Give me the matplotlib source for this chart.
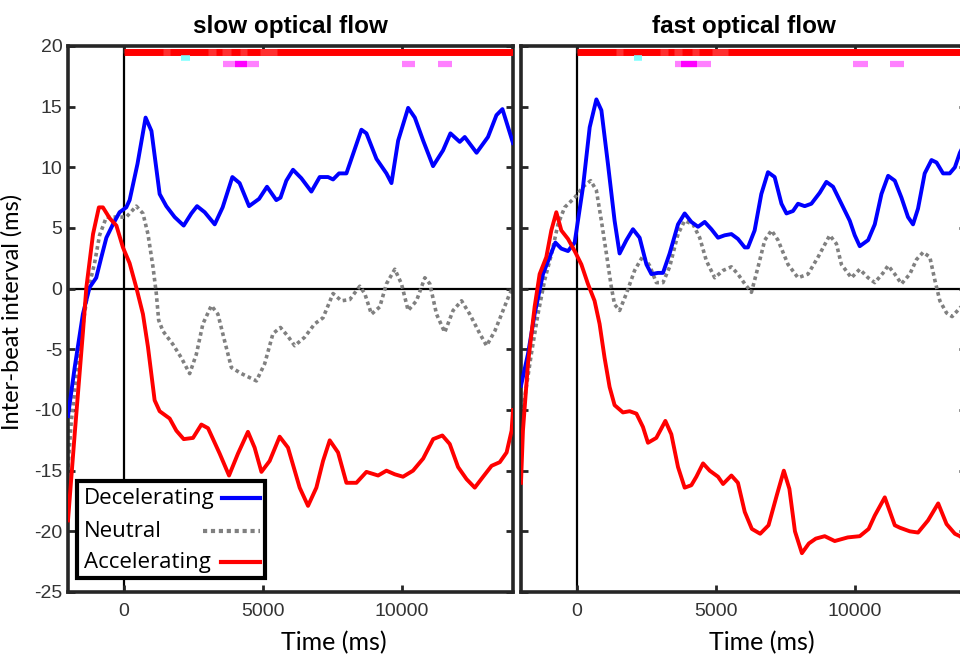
import matplotlib.pyplot as plt
from matplotlib.patches import Rectangle

plt.rcParams['axes.unicode_minus'] = False

# ---------------- data ----------------
# slow optical flow
slow_t_dec = [-2000, -1760, -1465, -1225, -985, -800, -620, -385, -145, 95, 216, 500, 790, 1000,
              1295, 1535, 1835, 2160, 2435, 2640, 2915, 3275, 3560, 3910, 4170, 4510, 4870, 5155,
              5490, 5640, 5850, 6090, 6390, 6750, 7050, 7350, 7530, 7745, 8010, 8550, 8730, 9090,
              9450, 9630, 9870, 10230, 10470, 10770, 11125, 11485, 11750, 12085, 12265, 12690,
              13100, 13405, 13620, 14000]
slow_dec = [-10.5, -6.5, -2.1, 0.1, 0.9, 2.6, 4.2, 5.3, 6.3, 6.7, 7.3, 10.3, 14.1, 13.0,
            7.8, 6.8, 5.9, 5.2, 6.2, 6.8, 6.3, 5.3, 6.7, 9.2, 8.7, 6.8, 7.4, 8.4,
            7.3, 7.5, 8.9, 9.8, 9.1, 8.0, 9.2, 9.2, 9.0, 9.5, 9.5, 13.1, 12.8, 10.7,
            9.5, 8.7, 12.2, 14.9, 14.1, 12.2, 10.1, 11.4, 12.8, 12.1, 12.5, 11.2,
            12.5, 14.3, 14.8, 12.0]

slow_t_neu = [-2000, -1880, -1580, -1285, -1045, -865, -620, -325, 95, 455, 695, 875, 1055, 1175,
              1260, 1415, 1775, 2075, 2375, 2615, 2850, 3155, 3390, 3630, 3875, 4235, 4775, 5070,
              5370, 5640, 5900, 6150, 6510, 6870, 7170, 7530, 7830, 8130, 8490, 8670, 8910, 9210,
              9450, 9750, 9990, 10230, 10530, 10830, 11010, 11250, 11545, 11845, 12150, 12445,
              12805, 13050, 13345, 13590, 13885, 14000]
slow_neu = [-14.7, -10.9, -4.8, -0.2, 2.1, 4.4, 5.9, 5.9, 5.9, 6.8, 6.2, 4.5, 1.8, -0.4,
            -2.6, -3.5, -4.6, -5.7, -7.0, -5.4, -2.9, -1.4, -2.1, -4.3, -6.5, -7.0, -7.6, -6.2,
            -3.7, -3.2, -3.9, -4.7, -4.0, -2.9, -2.4, -0.4, -1.0, -0.9, 0.2, -0.4, -2.1, -1.5,
            0.4, 1.6, 0.4, -1.8, -1.0, 0.9, 0.4, -2.1, -3.6, -1.8, -1.0, -2.1,
            -3.7, -4.7, -3.5, -2.1, -0.4, 0.1]

slow_t_acc = [-2000, -1760, -1460, -1340, -1100, -890, -745, -500, -260, -25, 215, 455, 695, 875,
              1115, 1295, 1655, 1895, 2160, 2495, 2795, 3035, 3455, 3790, 4110, 4470, 4710, 4955,
              5250, 5610, 5910, 6330, 6630, 6930, 7170, 7410, 7710, 8010, 8370, 8730, 9150, 9450,
              9750, 10045, 10405, 10770, 11130, 11460, 11725, 12025, 12330, 12625, 12925, 13230,
              13525, 13770, 13950, 14000]
slow_acc = [-19.1, -12.0, -3.5, 0.1, 4.5, 6.7, 6.7, 5.8, 5.2, 3.4, 2.1, 0.1, -2.1, -4.8,
            -9.2, -10.1, -10.7, -11.7, -12.4, -12.3, -11.2, -11.5, -13.6, -15.4, -13.6, -11.8, -13.1, -15.1,
            -14.2, -12.2, -13.1, -16.4, -17.9, -16.4, -14.2, -12.5, -13.5, -16.0, -16.0, -15.1, -15.4, -15.0,
            -15.3, -15.5, -15.0, -14.0, -12.4, -12.1, -12.8, -14.7, -15.7, -16.4, -15.5, -14.6,
            -14.3, -13.5, -11.7, -10.0]

# fast optical flow
fast_t_dec = [-2000, -1750, -1510, -1210, -970, -765, -550, -310, -70, 230, 470, 710, 890, 1125,
              1365, 1545, 1790, 2025, 2265, 2510, 2690, 2925, 3105, 3345, 3645, 3885, 4125, 4365,
              4605, 4845, 5085, 5325, 5565, 5800, 6045, 6160, 6400, 6640, 6880, 7120, 7365, 7545,
              7780, 7960, 8200, 8440, 8740, 8980, 9220, 9520, 9820, 10000, 10180, 10480, 10720,
              10960, 11200, 11440, 11680, 11915, 12095, 12275, 12515, 12760, 12940, 13175, 13415,
              13600, 13780, 14000]
fast_dec = [-8.0, -5.4, -2.1, 1.2, 2.6, 3.8, 3.3, 3.1, 3.8, 8.4, 13.3, 15.6, 14.7, 10.3,
            5.6, 2.9, 4.0, 4.9, 4.2, 2.0, 1.2, 1.3, 1.3, 2.9, 5.3, 6.2, 5.5, 5.1,
            5.5, 4.9, 4.2, 4.4, 4.5, 4.1, 3.4, 3.4, 4.8, 7.8, 9.6, 9.2, 7.0, 6.2,
            6.4, 7.0, 6.8, 7.0, 7.9, 8.8, 8.4, 7.0, 5.6, 4.4, 3.5, 4.0, 5.3,
            7.8, 9.3, 8.9, 7.5, 5.9, 5.3, 6.6, 9.5, 10.6, 10.4, 9.5, 9.5,
            10.0, 11.2, 12.2]

fast_t_neu = [-2000, -1630, -1390, -1150, -910, -670, -430, -70, 230, 505, 710, 890, 1070, 1250,
              1365, 1545, 1790, 2085, 2385, 2625, 2865, 3105, 3345, 3645, 3885, 4185, 4425, 4665,
              4965, 5265, 5565, 5800, 6045, 6285, 6525, 6765, 7005, 7240, 7600, 7960, 8320, 8680,
              9100, 9340, 9520, 9880, 10180, 10480, 10720, 11020, 11200, 11440, 11680, 11980,
              12220, 12460, 12700, 12880, 13060, 13300, 13500, 13780, 14000]
fast_neu = [-11.0, -5.4, -2.1, 0.7, 2.8, 5.3, 6.7, 7.5, 8.4, 8.9, 8.1, 5.6, 2.9, 0.1,
            -1.3, -1.8, -0.4, 1.5, 2.7, 1.9, 0.5, 0.5, 1.8, 4.5, 5.6, 5.3, 4.2, 2.3,
            0.9, 1.5, 1.8, 1.2, 0.4, -0.3, 1.8, 4.0, 4.8, 4.0, 2.0, 0.9, 1.2, 2.6,
            4.4, 3.7, 2.0, 0.9, 1.6, 0.9, 0.5, 1.3, 1.9, 1.2, 0.4, 1.2,
            2.4, 3.0, 2.6, 0.7, -1.0, -2.0, -2.3, -1.6, -1.0]

fast_t_acc = [-2000, -1930, -1750, -1510, -1330, -1090, -910, -730, -550, -310, -70, 170, 405, 645,
              825, 1005, 1185, 1365, 1665, 1905, 2150, 2385, 2565, 2865, 3190, 3405, 3645, 3885,
              4125, 4305, 4545, 4785, 5085, 5265, 5565, 5800, 6045, 6300, 6600, 6900, 7200, 7450,
              7650, 7850, 8100, 8350, 8600, 8920, 9280, 9750, 10180, 10500, 10720, 11080, 11440,
              11620, 11980, 12275, 12635, 13000, 13300, 13600, 13780, 14000]
fast_acc = [-16.0, -11.7, -6.2, -1.5, 1.2, 2.6, 4.8, 6.3, 4.8, 4.1, 3.1, 2.0, 0.4, -1.0,
            -2.9, -5.7, -8.1, -9.6, -10.2, -10.1, -10.3, -11.4, -12.7, -12.3, -10.9, -12.0, -14.7, -16.4,
            -16.2, -15.5, -14.4, -15.0, -15.5, -16.1, -15.4, -16.0, -18.4, -19.8, -20.2, -19.5, -17.0, -15.0,
            -16.5, -20.0, -21.8, -21.0, -20.6, -20.4, -20.8, -20.5, -20.4, -19.8, -18.7, -17.2, -19.5,
            -19.7, -20.0, -20.1, -19.1, -17.7, -19.4, -20.2, -20.4, -20.8]

# significance bars (ms ranges)
slow_red_sig = [(0, 14000)]
slow_red_weak = [(1400, 1650), (3050, 3320), (3550, 3850), (4170, 4420), (4900, 5500)]
slow_cyan_sig = [(2070, 2370)]
slow_mag_sig = [(3560, 4860), (10000, 10470), (11300, 11800)]
slow_mag_strong = [(4000, 4450)]

fast_red_sig = [(0, 14000)]
fast_red_weak = [(1400, 1650), (3000, 3300), (3500, 3800), (4150, 4400), (4850, 5450)]
fast_cyan_sig = [(2050, 2360)]
fast_mag_sig = [(3525, 4820), (9930, 10460), (11260, 11760)]
fast_mag_strong = [(3760, 4340)]

labels = ['Decelerating', 'Neutral', 'Accelerating']

label_font = 'Lato'
tick_font = 'Liberation Sans'
line_colors = ['#0000ff', '#808080', '#ff0000']
line_styles = ['-', (0, (1.0, 0.9)), '-']


def draw_panel(ax, t_dec, dec, t_neu, neu, t_acc, acc, red_sig, red_weak, cyan_sig,
               mag_sig, mag_strong, title):
    ax.axhline(0, color='k', lw=1.6, zorder=1)
    ax.axvline(0, color='k', lw=1.6, zorder=1)
    ax.plot(t_dec, dec, color=line_colors[0], lw=2.8, zorder=3, solid_joinstyle='round')
    ax.plot(t_neu, neu, color=line_colors[1], lw=2.6, ls=line_styles[1], zorder=2)
    ax.plot(t_acc, acc, color=line_colors[2], lw=2.8, zorder=3, solid_joinstyle='round')

    # significance markers at the top
    for a, b in red_sig:
        ax.hlines(19.53, a, b, colors='#ff0000', lw=5, capstyle='butt', zorder=4)
    for a, b in red_weak:
        ax.hlines(19.53, a, b, colors='#ff3030', lw=5, capstyle='butt', zorder=4)
    for a, b in cyan_sig:
        ax.hlines(19.03, a, b, colors='#80ffff', lw=4, capstyle='butt', zorder=4)
    for a, b in mag_sig:
        ax.hlines(18.54, a, b, colors='#ff80ff', lw=4.5, capstyle='butt', zorder=4)
    for a, b in mag_strong:
        ax.hlines(18.54, a, b, colors='#ff00ff', lw=4.5, capstyle='butt', zorder=4)

    ax.set_xlim(-2000, 14000)
    ax.set_ylim(-25, 20)
    ax.set_xticks([0, 5000, 10000])
    ax.set_yticks(range(-25, 21, 5))
    ax.tick_params(direction='in', length=5, width=2, top=True, right=True,
                   labelsize=14, colors='#262626')
    ax.tick_params(axis='x', pad=8)
    ax.tick_params(axis='y', pad=4)
    for lab in ax.get_xticklabels() + ax.get_yticklabels():
        lab.set_fontfamily(tick_font)
        lab.set_color('#333333')
    for s in ax.spines.values():
        s.set_linewidth(2.6)
        s.set_color('#262626')
    ax.set_title(title, fontsize=17.5, fontweight='bold', family=tick_font, pad=9)
    ax.set_xlabel('Time (ms)', fontsize=18, family=label_font)


fig = plt.figure(figsize=(9.6, 6.55), dpi=100)
ax1 = fig.add_axes([68 / 960, 1 - 592 / 655, 445 / 960, 546 / 655])
ax2 = fig.add_axes([521 / 960, 1 - 592 / 655, 445 / 960, 546 / 655])

draw_panel(ax1, slow_t_dec, slow_dec, slow_t_neu, slow_neu, slow_t_acc, slow_acc,
           slow_red_sig, slow_red_weak, slow_cyan_sig, slow_mag_sig, slow_mag_strong,
           'slow optical flow')
draw_panel(ax2, fast_t_dec, fast_dec, fast_t_neu, fast_neu, fast_t_acc, fast_acc,
           fast_red_sig, fast_red_weak, fast_cyan_sig, fast_mag_sig, fast_mag_strong,
           'fast optical flow')
ax2.set_yticklabels([])
ax1.xaxis.set_label_coords(0.598, -0.071)
ax2.xaxis.set_label_coords(0.5416, -0.071)
ax1.set_ylabel('Inter-beat interval (ms)', fontsize=17, family=label_font)
ax1.yaxis.set_label_coords(-0.103, 0.513)

# legend drawn by hand (MATLAB style: text left, line to the right)
box = Rectangle((0.0202, 0.0256), 0.4225, 0.1777, transform=ax1.transAxes,
                facecolor='white', edgecolor='black', lw=3, zorder=10)
ax1.add_patch(box)
row_y = [0.172, 0.1117, 0.0549]
line_x0 = [0.346, 0.303, 0.344]
for lab, yy, x0, c, ls in zip(labels, row_y, line_x0, line_colors, line_styles):
    ax1.text(0.036, yy, lab, transform=ax1.transAxes, fontsize=16, family='Open Sans',
             va='center', ha='left', zorder=11)
    ax1.plot([x0, 0.431], [yy, yy], transform=ax1.transAxes, color=c, lw=3, ls=ls,
             zorder=11, clip_on=False)

fig.savefig('out.png', dpi=100)
